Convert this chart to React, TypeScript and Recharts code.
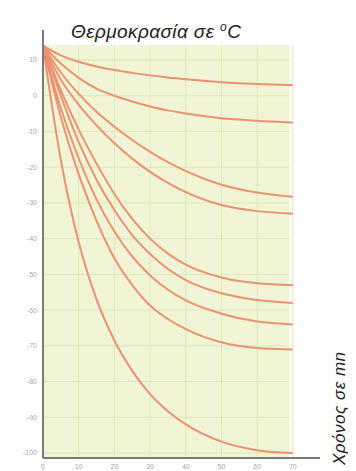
import React from 'react'
import { LineChart, Line, XAxis, YAxis, ReferenceArea, ReferenceLine } from 'recharts'

// time in minutes
const times = [0, 5, 10, 15, 20, 25, 30, 35, 40, 50, 60, 70]

// temperature curves in °C (top to bottom)
const c1 = [14, 11.3, 9.5, 8.2, 7.2, 6.4, 5.7, 5.1, 4.6, 3.8, 3.3, 3]
const c2 = [14, 9, 5, 2, 0, -1.6, -3, -4.1, -5, -6.3, -7, -7.5]
const c3 = [14, 6.5, 0.5, -4.5, -8.7, -12.4, -15.7, -18.6, -21.1, -24.9, -27.1, -28.3]
const c4 = [14, 4.5, -2.5, -8.3, -13.3, -17.6, -21.3, -24.4, -27, -30.6, -32.3, -33]
const c5 = [14, 1.5, -9.5, -19, -27.5, -34.5, -40, -44.2, -47.3, -50.9, -52.5, -53]
const c6 = [14, 0, -13, -23.5, -32, -39, -44.3, -48.5, -51.6, -55.3, -57.2, -58]
const c7 = [14, -3.5, -17.5, -29, -38, -45, -50.3, -54.3, -57.3, -61, -63.2, -64]
const c8 = [14, -6, -22, -35, -45.5, -53, -58.7, -62.5, -65.3, -69, -70.6, -71]
const c9 = [14, -18, -41, -57, -68.5, -77, -83.5, -88.3, -92, -96.8, -99.2, -100]

const curves = [c1, c2, c3, c4, c5, c6, c7, c8, c9]

const xTicks = [0, 10, 20, 30, 40, 50, 60, 70]
const yTicks = [10, 0, -10, -20, -30, -40, -50, -60, -70, -80, -90, -100]

const Y_MIN = -101.4
const Y_MAX = 18.4
const GRID_TOP = 14.2
const GRID_RIGHT = 69

const data = times.map((t, i) => {
  const row: any = { t }
  curves.forEach((c, k) => {
    row['c' + (k + 1)] = c[i]
  })
  return row
})

const lineColor = '#eb9270'
const gridColor = '#dde8b8'

export default function App() {
  return (
    <div style={{ position: 'absolute', left: 0, top: 0, width: 356, height: 471, background: '#fff', fontFamily: 'Liberation Sans, Arial, sans-serif' }}>
      <LineChart width={356} height={471} data={data} margin={{ top: 30, right: 36, bottom: 0, left: 0 }}>
        <ReferenceArea x1={0} x2={GRID_RIGHT} y1={Y_MIN} y2={GRID_TOP} fill="#f1f5d6" fillOpacity={1} stroke="none" />
        {xTicks.map(t => (
          <ReferenceLine key={'vx' + t} segment={[{ x: t, y: Y_MIN }, { x: t, y: GRID_TOP }]} stroke={gridColor} strokeWidth={1} />
        ))}
        {yTicks.map(v => (
          <ReferenceLine key={'hy' + v} segment={[{ x: 0, y: v }, { x: GRID_RIGHT, y: v }]} stroke={gridColor} strokeWidth={1} />
        ))}
        <XAxis
          dataKey="t"
          type="number"
          domain={[0, 77.6]}
          ticks={xTicks}
          height={13}
          tickLine={false}
          tickSize={3}
          tickMargin={3}
          axisLine={{ stroke: '#7a7a7a', strokeWidth: 2 }}
          tick={{ fontSize: 7, fill: '#a8a8a8' }}
          allowDataOverflow
        />
        <YAxis
          type="number"
          domain={[Y_MIN, Y_MAX]}
          ticks={yTicks}
          width={43}
          tickLine={false}
          tickSize={3}
          tickMargin={3}
          axisLine={{ stroke: '#7a7a7a', strokeWidth: 2 }}
          tick={{ fontSize: 7, fill: '#a8a8a8' }}
          allowDataOverflow
        />
        {curves.map((_, k) => (
          <Line
            key={k}
            dataKey={'c' + (k + 1)}
            type="monotone"
            stroke={lineColor}
            strokeWidth={2}
            dot={false}
            isAnimationActive={false}
          />
        ))}
      </LineChart>
      <div style={{ position: 'absolute', left: 71, top: 21, fontSize: 19, letterSpacing: 0.4, fontStyle: 'italic', color: '#222', whiteSpace: 'nowrap', lineHeight: '22px' }}>
        Θερμοκρασία σε <span style={{ fontSize: 12, verticalAlign: 'top', lineHeight: '12px' }}>o</span>C
      </div>
      <div style={{ position: 'absolute', left: 330, top: 465, fontSize: 17, letterSpacing: 0.5, fontStyle: 'italic', color: '#222', whiteSpace: 'nowrap', lineHeight: '20px', transform: 'rotate(-90deg)', transformOrigin: '0 0' }}>
        Χρόνος σε mn
      </div>
    </div>
  )
}
